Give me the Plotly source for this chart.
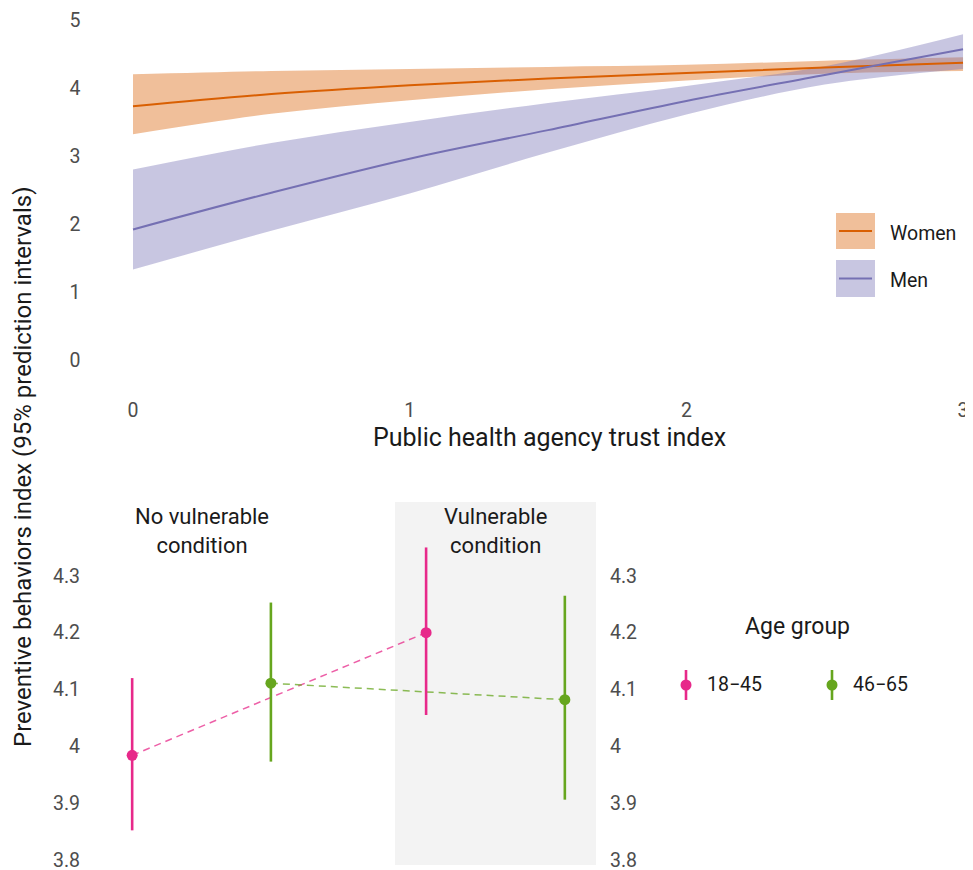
import plotly.graph_objects as go

# ---------------- data ----------------
trust_x = [0, 0.5, 1, 1.5, 2, 2.5, 3]
women_fit = [3.73, 3.91, 4.04, 4.14, 4.22, 4.30, 4.37]
women_lo = [3.32, 3.62, 3.82, 3.98, 4.11, 4.21, 4.25]
women_hi = [4.20, 4.25, 4.28, 4.31, 4.34, 4.40, 4.45]
men_fit = [1.92, 2.46, 2.96, 3.38, 3.81, 4.19, 4.57]
men_lo = [1.33, 1.90, 2.45, 3.05, 3.61, 4.05, 4.28]
men_hi = [2.80, 3.19, 3.50, 3.78, 4.03, 4.32, 4.79]
top_ticks = [0, 1, 2, 3, 4, 5]
top_xticks = [0, 1, 2, 3]

conditions = ["No vulnerable<br>condition", "Vulnerable<br>condition"]
cond_pos = [1, 2]
age_groups = ["18\u221245", "46\u221265"]
est_18_45 = [3.984, 4.200]
lo_18_45 = [3.852, 4.055]
hi_18_45 = [4.120, 4.350]
est_46_65 = [4.111, 4.082]
lo_46_65 = [3.973, 3.906]
hi_46_65 = [4.253, 4.265]
bottom_ticks = [3.8, 3.9, 4.0, 4.1, 4.2, 4.3]
bottom_ticktext = ["3.8", "3.9", "4", "4.1", "4.2", "4.3"]

# ---------------- styling ----------------
OFF = 8                      # page body margin
W, H = 973 - OFF, 870 - OFF
FONT = "Roboto"
TICK_COL = "#4d4d4d"
TXT_COL = "#1a1a1a"
ORANGE = "#d95f02"
PURPLE = "#7570b3"
PINK = "#e7298a"
GREEN = "#66a61e"
DODGE = 0.236
TICK_SIZE = 19.5


def px(x):
    return (x - OFF) / W


def py(y):
    return 1 - (y - OFF) / H


fig = go.Figure()

# ----- top panel: ribbons then lines -----
for lo, hi, col in [(women_lo, women_hi, "rgba(217,95,2,0.4)"),
                    (men_lo, men_hi, "rgba(117,112,179,0.4)")]:
    fig.add_trace(go.Scatter(
        x=trust_x, y=lo, mode="lines", line=dict(width=0, shape="spline"),
        hoverinfo="skip", showlegend=False, xaxis="x", yaxis="y"))
    fig.add_trace(go.Scatter(
        x=trust_x, y=hi, mode="lines", line=dict(width=0, shape="spline"),
        fill="tonexty", fillcolor=col,
        hoverinfo="skip", showlegend=False, xaxis="x", yaxis="y"))
for fit, col, name in [(women_fit, ORANGE, "Women"), (men_fit, PURPLE, "Men")]:
    fig.add_trace(go.Scatter(
        x=trust_x, y=fit, mode="lines", line=dict(color=col, width=2, shape="spline"),
        name=name, showlegend=False, xaxis="x", yaxis="y"))

# ----- bottom panel -----
series = [
    (age_groups[0], est_18_45, lo_18_45, hi_18_45, PINK, "rgba(231,41,138,0.75)", -DODGE),
    (age_groups[1], est_46_65, lo_46_65, hi_46_65, GREEN, "rgba(102,166,30,0.75)", DODGE),
]
for name, est, lo, hi, col, dcol, off in series:
    xs = [c + off for c in cond_pos]
    fig.add_trace(go.Scatter(
        x=xs, y=est, mode="lines", line=dict(color=dcol, width=1.5, dash="7px,5px"),
        hoverinfo="skip", showlegend=False, xaxis="x2", yaxis="y2"))
for name, est, lo, hi, col, dcol, off in series:
    xs = [c + off for c in cond_pos]
    fig.add_trace(go.Scatter(
        x=xs, y=est, mode="markers", marker=dict(color=col, size=11),
        error_y=dict(type="data", symmetric=False,
                     array=[h - e for h, e in zip(hi, est)],
                     arrayminus=[e - l for e, l in zip(est, lo)],
                     color=col, thickness=2.6, width=0),
        name=name, showlegend=False, xaxis="x2", yaxis="y2"))
# invisible trace so the right-side axis is drawn
fig.add_trace(go.Scatter(x=cond_pos, y=est_18_45, mode="markers",
                         marker=dict(opacity=0), hoverinfo="skip", showlegend=False,
                         xaxis="x2", yaxis="y3"))

shapes = []
annotations = []

# grey background behind the vulnerable-condition panel
shapes.append(dict(type="rect", xref="x2", yref="y2 domain",
                   x0=cond_pos[1] - 0.342, x1=cond_pos[1] + 0.342, y0=0, y1=1,
                   fillcolor="#f3f3f3", line=dict(width=0), layer="below"))

# facet labels
for c, lab in zip(cond_pos, conditions):
    annotations.append(dict(xref="x2", yref="paper", x=c, y=py(531), text=lab,
                            showarrow=False, xanchor="center", yanchor="middle",
                            font=dict(family=FONT, size=22, color=TXT_COL)))

# axis titles
annotations.append(dict(xref="paper", yref="paper", x=px(549), y=py(437),
                        text="Public health agency trust index", showarrow=False,
                        xanchor="center", yanchor="middle",
                        font=dict(family=FONT, size=25, color=TXT_COL)))
annotations.append(dict(xref="paper", yref="paper", x=px(23), y=py(467),
                        text="Preventive behaviors index (95% prediction intervals)",
                        textangle=-90, showarrow=False, xanchor="center", yanchor="middle",
                        font=dict(family=FONT, size=24, color=TXT_COL)))

# top legend (manual keys)
for (y0, y1, name, fill, col) in [
        (213, 249, "Women", "rgba(217,95,2,0.4)", ORANGE),
        (260, 297, "Men", "rgba(117,112,179,0.4)", PURPLE)]:
    yl = (y0 + y1) / 2
    shapes.append(dict(type="rect", xref="paper", yref="paper",
                       x0=px(836), x1=px(875), y0=py(y1), y1=py(y0),
                       fillcolor=fill, line=dict(width=0)))
    shapes.append(dict(type="line", xref="paper", yref="paper",
                       x0=px(839), x1=px(872), y0=py(yl), y1=py(yl),
                       line=dict(color=col, width=2)))
    annotations.append(dict(xref="paper", yref="paper", x=px(888), y=py(yl + 2),
                            text=name, showarrow=False, xanchor="left", yanchor="middle",
                            font=dict(family=FONT, size=19.5, color=TXT_COL)))

# bottom legend (manual keys)
annotations.append(dict(xref="paper", yref="paper", x=px(797), y=py(626),
                        text="Age group", showarrow=False, xanchor="center", yanchor="middle",
                        font=dict(family=FONT, size=23, color=TXT_COL)))
for xk, col, name in [(686, PINK, age_groups[0]), (832, GREEN, age_groups[1])]:
    shapes.append(dict(type="line", xref="paper", yref="paper",
                       x0=px(xk), x1=px(xk), y0=py(700), y1=py(670),
                       line=dict(color=col, width=2.6)))
    shapes.append(dict(type="circle", xref="paper", yref="paper",
                       xsizemode="pixel", ysizemode="pixel",
                       xanchor=px(xk), yanchor=py(685),
                       x0=-5.5, x1=5.5, y0=-5.5, y1=5.5,
                       fillcolor=col, line=dict(width=0)))
    annotations.append(dict(xref="paper", yref="paper", x=px(xk + 19), y=py(684),
                            text=name, showarrow=False, xanchor="left", yanchor="middle",
                            font=dict(family=FONT, size=19.5, color=TXT_COL)))

axis_common = dict(showgrid=False, zeroline=False, showline=False, ticks="",
                   automargin=False, ticklabeloverflow="allow",
                   tickfont=dict(family=FONT, size=TICK_SIZE, color=TICK_COL))

fig.update_layout(
    width=W, height=H,
    margin=dict(l=0, r=0, t=0, b=0),
    paper_bgcolor="white", plot_bgcolor="white",
    font=dict(family=FONT),
    showlegend=False,
    xaxis=dict(domain=[px(91.5), 1], range=[-0.15, 3.036], tickvals=top_xticks,
               anchor="y", ticklabelstandoff=19, **axis_common),
    yaxis=dict(domain=[py(377), py(8)], range=[-0.25, 5.176], tickvals=top_ticks,
               anchor="x", ticklabelstandoff=10, **axis_common),
    xaxis2=dict(domain=[px(101), px(596)], range=[0.658, 2.342], automargin=False,
                showticklabels=False, anchor="y2", showgrid=False, zeroline=False,
                showline=False, ticks=""),
    yaxis2=dict(domain=[py(865), py(502)], range=[3.791, 4.430],
                tickvals=bottom_ticks, ticktext=bottom_ticktext, anchor="x2",
                ticklabelstandoff=20, **axis_common),
    yaxis3=dict(domain=[py(865), py(502)], range=[3.791, 4.430], overlaying="y2",
                side="right", tickvals=bottom_ticks, ticktext=bottom_ticktext,
                anchor="x2", ticklabelstandoff=13, **axis_common),
    shapes=shapes, annotations=annotations,
)

fig.write_html("out.html")
